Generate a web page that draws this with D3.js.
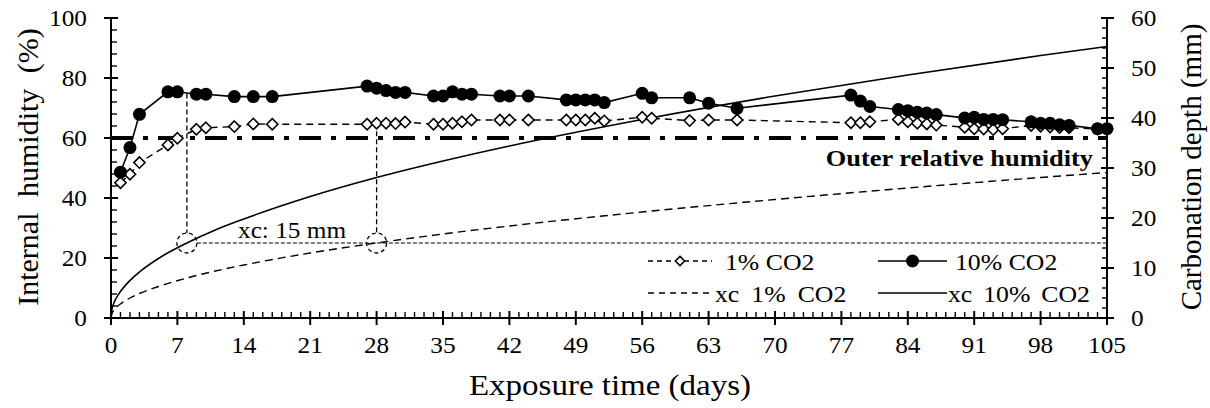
<!DOCTYPE html>
<html>
<head>
<meta charset="utf-8">
<script src="https://cdn.jsdelivr.net/npm/d3@7"></script>
<style>
  body { margin: 0; background: #fff; }
  svg { display: block; }
  text { font-family: "Liberation Serif", "Times New Roman", serif; fill: #000; }
</style>
</head>
<body>
<svg id="chart" width="1210" height="408" font-family="Liberation Serif, Times New Roman, serif"></svg>
<script>
// Sampling days of the internal humidity measurements
const days = [1,2,3,6,7,9,10,13,15,17,27,28,29,30,31,34,35,36,37,38,41,42,44,48,49,50,51,52,56,57,61,63,66,78,79,80,83,84,85,86,87,90,91,92,93,94,97,98,99,100,101,104,105];
// Internal relative humidity (%) at 1% CO2
const rh1 = [45.1,47.9,51.8,57.7,59.9, 62.9,63.4,63.8,64.7,64.6, 64.6,64.9,64.9,64.8,65.3, 64.6,64.6,64.9,65.4,66.0, 66.0,66.0,66.0, 66.0,66.0,66.0,66.6,65.7, 66.9,66.6,65.8,66.0,66.0, 65.1,65.1,65.4, 66.2,65.4,64.9,64.7,64.3, 63.6,63.1,63.0,62.8,63.1, 64.2,63.9,63.7,63.5,63.4, 63.0,63.0];
// Internal relative humidity (%) at 10% CO2
const rh10 = [48.6,56.8,67.9,75.4,75.4, 74.6,74.6,73.8,73.8,73.8, 77.3,76.6,75.8,75.2,75.2, 74.0,74.0,75.4,74.6,74.6, 74.0,74.0,74.0, 72.7,72.7,72.7,72.7,71.8, 74.9,73.4,73.4,71.6,69.9, 74.3,72.3,70.5, 69.5,69.1,68.6,68.3,67.8, 66.7,66.9,66.2,66.2,66.1, 65.4,64.9,64.9,64.4,64.2, 63.1,63.1];

// Carbonation depth curves (mm)
const xcDays = [0,0.1,0.25,0.5,1,2,3,5,8,11,14,21,28,35,42,56,70,84,98,105];
const xc1  = [0,0.9,1.4,2.0,2.8,4.0,4.9,6.3,8.0,9.4,10.6,13.0,15.0,16.8,18.4,21.2,23.7,26.0,28.1,29.1];
const xc10 = [0,1.7,2.7,3.8,5.3,7.5,9.2,11.9,15.0,17.6,19.8,24.3,28.1,31.4,34.4,39.7,44.4,48.6,52.5,54.3];

// Days at which each carbonation front reaches 15 mm, and the humidity there
const markDays = [8, 28];
const markRH = [74.8, 64.9];
const markDepth = 15;
const outerRH = 60;

// Tick labels
const xTicks = [0,7,14,21,28,35,42,49,56,63,70,77,84,91,98,105];
const yLTicks = [0,20,40,60,80,100];
const yRTicks = [0,10,20,30,40,50,60];

const X0 = 111, X1 = 1107, Y0 = 318, Y1 = 18;
const SX = 1.1; // horizontal text stretch

const svg = d3.select("#chart");
const x  = d3.scaleLinear().domain([0, 105]).range([X0, X1]);
const yL = d3.scaleLinear().domain([0, 100]).range([Y0, Y1]);
const yR = d3.scaleLinear().domain([0, 60]).range([Y0, Y1]);

function stretchedText(g, tx, ty, str, size, anchor, weight, sx) {
  return g.append("text")
    .attr("transform", `translate(${tx},${ty}) scale(${sx || SX},1)`)
    .attr("text-anchor", anchor || "start")
    .attr("font-size", size)
    .attr("font-weight", weight || "normal")
    .text(str);
}

// ---- Outer relative humidity reference ----
svg.append("line")
  .attr("x1", x(0)).attr("x2", x(105))
  .attr("y1", yL(outerRH)).attr("y2", yL(outerRH))
  .attr("stroke", "#000").attr("stroke-width", 4)
  .attr("stroke-dasharray", "22,10,5,10");
stretchedText(svg, 1093, 166, "Outer relative humidity", 24, "end", "bold");

// ---- Carbonation depth curves ----
const curveLine = d3.line().x(d => x(d[0])).y(d => yR(d[1])).curve(d3.curveMonotoneX);
svg.append("path")
  .datum(xcDays.map((d, i) => [d, xc1[i]]))
  .attr("d", curveLine)
  .attr("fill", "none").attr("stroke", "#000").attr("stroke-width", 1.4)
  .attr("stroke-dasharray", "8,5");
svg.append("path")
  .datum(xcDays.map((d, i) => [d, xc10[i]]))
  .attr("d", curveLine)
  .attr("fill", "none").attr("stroke", "#000").attr("stroke-width", 1.6);

// ---- 15 mm guide: circles, horizontal and vertical dashed lines ----
const rMark = 10;
svg.append("line")
  .attr("x1", x(markDays[0]) + rMark).attr("x2", x(105))
  .attr("y1", yR(markDepth)).attr("y2", yR(markDepth))
  .attr("stroke", "#000").attr("stroke-width", 1.2).attr("stroke-dasharray", "4,2");
markDays.forEach((d, i) => {
  svg.append("line")
    .attr("x1", x(d)).attr("x2", x(d))
    .attr("y1", yL(markRH[i])).attr("y2", yR(markDepth) - rMark)
    .attr("stroke", "#000").attr("stroke-width", 1.3).attr("stroke-dasharray", "5,3");
  svg.append("circle")
    .attr("cx", x(d)).attr("cy", yR(markDepth)).attr("r", rMark)
    .attr("fill", "none").attr("stroke", "#000").attr("stroke-width", 1.3)
    .attr("stroke-dasharray", "4,3");
});
stretchedText(svg, 238, 238, "xc: 15 mm", 23, "start");

// ---- Internal humidity series ----
const rhLine = d3.line().x(d => x(d[0])).y(d => yL(d[1]));
const s1 = days.map((d, i) => [d, rh1[i]]);
const s10 = days.map((d, i) => [d, rh10[i]]);
const diamond = d3.symbol().type(d3.symbolDiamond2).size(80);

svg.append("path").datum(s1).attr("d", rhLine)
  .attr("fill", "none").attr("stroke", "#000").attr("stroke-width", 1.4)
  .attr("stroke-dasharray", "7,5");
svg.selectAll(".dia").data(s1).join("path")
  .attr("class", "dia")
  .attr("transform", d => `translate(${x(d[0])},${yL(d[1])})`)
  .attr("d", diamond)
  .attr("fill", "#fff").attr("stroke", "#000").attr("stroke-width", 1.6);

svg.append("path").datum(s10).attr("d", rhLine)
  .attr("fill", "none").attr("stroke", "#000").attr("stroke-width", 1.6);
svg.selectAll(".dot").data(s10).join("circle")
  .attr("class", "dot")
  .attr("cx", d => x(d[0])).attr("cy", d => yL(d[1])).attr("r", 6.5)
  .attr("fill", "#000");

// ---- Axes ----
const axes = svg.append("g").attr("stroke", "#000");
axes.append("line").attr("x1", X0).attr("x2", X1).attr("y1", Y0).attr("y2", Y0).attr("stroke-width", 2);
axes.append("line").attr("x1", X0).attr("x2", X0).attr("y1", Y0).attr("y2", Y1).attr("stroke-width", 2);
axes.append("line").attr("x1", X1).attr("x2", X1).attr("y1", Y0).attr("y2", Y1).attr("stroke-width", 2);

// bottom: minor ticks every day, major every week
d3.range(0, 106).forEach(d => {
  const major = xTicks.includes(d);
  axes.append("line").attr("x1", x(d)).attr("x2", x(d))
    .attr("y1", major ? Y0 + 7 : Y0).attr("y2", major ? Y0 - 7 : Y0 - 6)
    .attr("stroke-width", major ? 2 : 1.4);
});
// left: minor every 4 %
d3.range(0, 101, 4).forEach(v => {
  if (yLTicks.includes(v)) return;
  axes.append("line").attr("x1", X0).attr("x2", X0 + 6).attr("y1", yL(v)).attr("y2", yL(v)).attr("stroke-width", 1.4);
});
yLTicks.forEach(v => {
  axes.append("line").attr("x1", X0 - 7).attr("x2", X0 + 7).attr("y1", yL(v)).attr("y2", yL(v)).attr("stroke-width", 2);
});
// right: minor every 2 mm
d3.range(0, 61, 2).forEach(v => {
  if (yRTicks.includes(v)) return;
  axes.append("line").attr("x1", X1 - 5).attr("x2", X1).attr("y1", yR(v)).attr("y2", yR(v)).attr("stroke-width", 1.4);
});
yRTicks.forEach(v => {
  axes.append("line").attr("x1", X1 - 6).attr("x2", X1 + 7).attr("y1", yR(v)).attr("y2", yR(v)).attr("stroke-width", 2);
});

// tick labels
const labels = svg.append("g");
xTicks.forEach(v => stretchedText(labels, x(v), 353, String(v), 23, "middle"));
yLTicks.forEach(v => stretchedText(labels, X0 - 24, yL(v) + 8, String(v), 23, "end"));
yRTicks.forEach(v => stretchedText(labels, X1 + 24, yR(v) + 8, String(v), 23, "start"));

// axis titles
stretchedText(svg, 610, 395, "Exposure time (days)", 30, "middle");
svg.append("text")
  .attr("transform", `translate(38,167) rotate(-90)`)
  .attr("text-anchor", "middle").attr("font-size", 30)
  .attr("word-spacing", 8)
  .text("Internal humidity (%)");
svg.append("text")
  .attr("transform", `translate(1201,167) rotate(-90)`)
  .attr("text-anchor", "middle").attr("font-size", 29)
  .text("Carbonation depth (mm)");

// ---- Legend ----
const lg = svg.append("g");
const legendRows = [
  {x1: 648, x2: 712, y: 261, dash: "5,4", mark: "diamond", tx: 725, label: "1% CO2", ws: 0},
  {x1: 878, x2: 947, y: 261, dash: null, mark: "dot", tx: 955, label: "10% CO2", ws: 0},
  {x1: 648, x2: 712, y: 293, dash: "6,5", mark: null, tx: 715, label: "xc 1% CO2", ws: 5},
  {x1: 878, x2: 947, y: 293, dash: null, mark: null, tx: 948, label: "xc 10% CO2", ws: 4}
];
legendRows.forEach(r => {
  const ln = lg.append("line").attr("x1", r.x1).attr("x2", r.x2).attr("y1", r.y).attr("y2", r.y)
    .attr("stroke", "#000").attr("stroke-width", 1.5);
  if (r.dash) ln.attr("stroke-dasharray", r.dash);
  const cx = (r.x1 + r.x2) / 2;
  if (r.mark === "diamond") {
    lg.append("path").attr("transform", `translate(${cx},${r.y})`)
      .attr("d", d3.symbol().type(d3.symbolDiamond2).size(55))
      .attr("fill", "#fff").attr("stroke", "#000").attr("stroke-width", 1.5);
  } else if (r.mark === "dot") {
    lg.append("circle").attr("cx", cx).attr("cy", r.y).attr("r", 6.5).attr("fill", "#000");
  }
  stretchedText(lg, r.tx, r.y + 9, r.label, 23, "start", "normal", 1.12)
    .attr("word-spacing", r.ws);
});
</script>
</body>
</html>
